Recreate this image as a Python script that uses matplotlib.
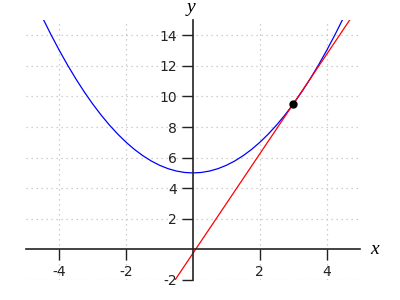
import matplotlib
matplotlib.use('Agg')
import matplotlib.pyplot as plt

plt.rcParams['axes.unicode_minus'] = False

# parabola samples
curve_x = [-4.5, -4.25, -4.0, -3.75, -3.5, -3.25, -3.0, -2.75, -2.5, -2.25, -2.0, -1.75, -1.5,
           -1.25, -1.0, -0.75, -0.5, -0.25, 0.0, 0.25, 0.5, 0.75, 1.0, 1.25, 1.5, 1.75, 2.0,
           2.25, 2.5, 2.75, 3.0, 3.25, 3.5, 3.75, 4.0, 4.25, 4.5]
curve_y = [15.125, 14.031, 13.0, 12.031, 11.125, 10.281, 9.5, 8.781, 8.125, 7.531, 7.0, 6.531,
           6.125, 5.781, 5.5, 5.281, 5.125, 5.031, 5.0, 5.031, 5.125, 5.281, 5.5, 5.781, 6.125,
           6.531, 7.0, 7.531, 8.125, 8.781, 9.5, 10.281, 11.125, 12.031, 13.0, 14.031, 15.125]

# red secant line through (3, 9.5) and (3.5, 11.125)
line_x = [-1.0, 5.0]
line_y = [-3.5, 16.0]

point_x = [3.0]
point_y = [9.5]

x_ticks = [-4, -2, 2, 4]
y_ticks = [-2, 2, 4, 6, 8, 10, 12, 14]

fig = plt.figure(figsize=(4, 3), dpi=100)
ax = fig.add_axes([0.065, 0.0667, 0.835, 0.8667])

ax.plot(curve_x, curve_y, color='blue', lw=0.9)
ax.plot(line_x, line_y, color='red', lw=0.9)
ax.plot(point_x, point_y, 'o', color='black', ms=5)

ax.set_xlim(-5, 5)
ax.set_ylim(-2, 15)
ax.set_xticks(x_ticks)
ax.set_yticks(y_ticks)
ax.tick_params(labelsize=10, length=8, width=1, colors='#222222', labelcolor='#222222')

ax.spines['left'].set_position(('data', 0))
ax.spines['bottom'].set_position(('data', 0))
ax.spines['top'].set_visible(False)
ax.spines['right'].set_visible(False)
for s in ('left', 'bottom'):
  ax.spines[s].set_linewidth(1.2)
  ax.spines[s].set_color('#222222')

ax.grid(True, color='#c0c0c0', linestyle=(0, (1, 3)), lw=0.9)
ax.set_axisbelow(True)

fig.text(191 / 400, 1 - 7 / 300, 'y', family='Liberation Serif', style='italic', fontsize=14,
         ha='center', va='center')
fig.text(375 / 400, 1 - 250 / 300, 'x', family='Liberation Serif', style='italic', fontsize=14,
         ha='center', va='center')

fig.savefig('out.png', dpi=100)
